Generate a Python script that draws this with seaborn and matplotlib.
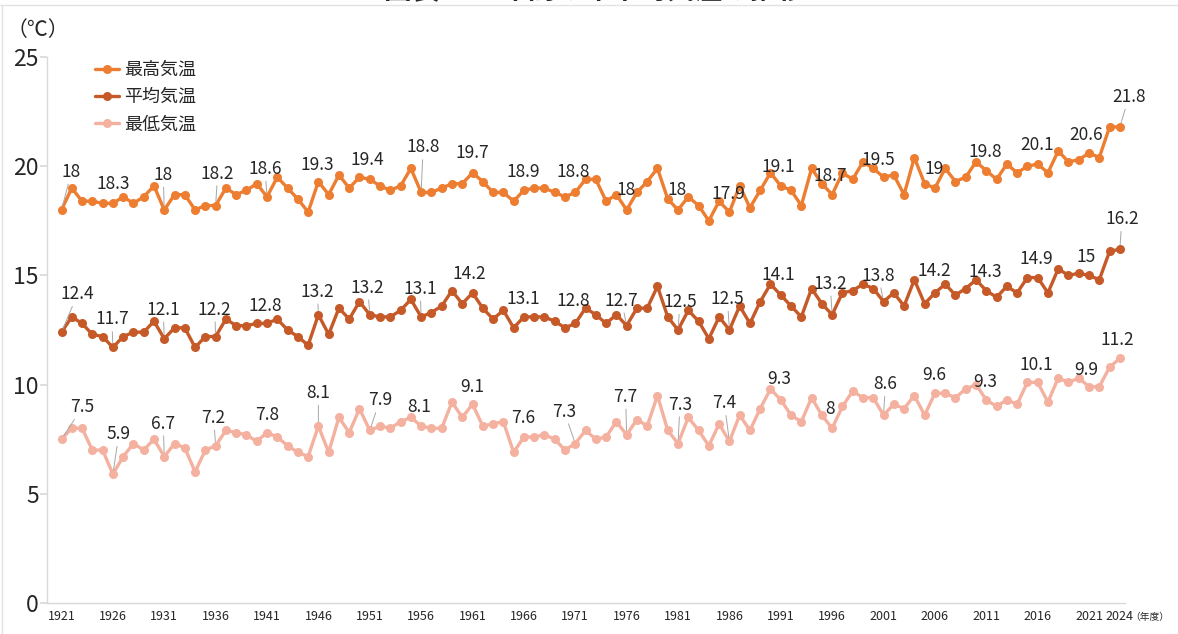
import pandas as pd
import matplotlib
matplotlib.use("Agg")
from matplotlib import pyplot as plt
from matplotlib.lines import Line2D
import seaborn as sns

years = list(range(1921, 2025))

max_temp = [
    18.0, 19.0, 18.4, 18.4, 18.3, 18.3, 18.6, 18.3, 18.6, 19.1,
    18.0, 18.7, 18.7, 18.0, 18.2, 18.2, 19.0, 18.7, 18.9, 19.2,
    18.6, 19.5, 19.0, 18.5, 17.9, 19.3, 18.7, 19.6, 19.0, 19.5,
    19.4, 19.1, 18.9, 19.1, 19.9, 18.8, 18.8, 19.0, 19.2, 19.2,
    19.7, 19.3, 18.8, 18.8, 18.4, 18.9, 19.0, 19.0, 18.8, 18.6,
    18.8, 19.4, 19.4, 18.4, 18.7, 18.0, 18.8, 19.3, 19.9, 18.5,
    18.0, 18.6, 18.2, 17.5, 18.4, 17.9, 19.1, 18.1, 18.9, 19.7,
    19.1, 18.9, 18.2, 19.9, 19.2, 18.7, 19.7, 19.4, 20.2, 19.9,
    19.5, 19.6, 18.7, 20.4, 19.2, 19.0, 19.9, 19.3, 19.5, 20.2,
    19.8, 19.4, 20.1, 19.7, 20.0, 20.1, 19.7, 20.7, 20.2, 20.3,
    20.6, 20.4, 21.8, 21.8,
]
avg_temp = [
    12.4, 13.1, 12.8, 12.3, 12.2, 11.7, 12.2, 12.4, 12.4, 12.9,
    12.1, 12.6, 12.6, 11.7, 12.2, 12.2, 13.0, 12.7, 12.7, 12.8,
    12.8, 13.0, 12.5, 12.2, 11.8, 13.2, 12.3, 13.5, 13.0, 13.8,
    13.2, 13.1, 13.1, 13.4, 13.9, 13.1, 13.3, 13.6, 14.3, 13.7,
    14.2, 13.5, 13.0, 13.4, 12.6, 13.1, 13.1, 13.1, 12.9, 12.6,
    12.8, 13.5, 13.2, 12.8, 13.2, 12.7, 13.5, 13.5, 14.5, 13.1,
    12.5, 13.4, 12.9, 12.1, 13.1, 12.5, 13.6, 12.8, 13.8, 14.6,
    14.1, 13.6, 13.1, 14.4, 13.7, 13.2, 14.2, 14.3, 14.6, 14.4,
    13.8, 14.2, 13.6, 14.8, 13.7, 14.2, 14.6, 14.1, 14.4, 14.8,
    14.3, 14.0, 14.5, 14.2, 14.9, 14.9, 14.2, 15.3, 15.0, 15.1,
    15.0, 14.8, 16.1, 16.2,
]
min_temp = [
    7.5, 8.0, 8.0, 7.0, 7.0, 5.9, 6.7, 7.3, 7.0, 7.5,
    6.7, 7.3, 7.1, 6.0, 7.0, 7.2, 7.9, 7.8, 7.7, 7.4,
    7.8, 7.6, 7.2, 6.9, 6.7, 8.1, 6.9, 8.5, 7.8, 8.9,
    7.9, 8.1, 8.0, 8.3, 8.5, 8.1, 8.0, 8.0, 9.2, 8.5,
    9.1, 8.1, 8.2, 8.3, 6.9, 7.6, 7.6, 7.7, 7.5, 7.0,
    7.3, 7.9, 7.5, 7.6, 8.3, 7.7, 8.4, 8.1, 9.5, 7.9,
    7.3, 8.5, 7.9, 7.2, 8.2, 7.4, 8.6, 7.9, 8.9, 9.8,
    9.3, 8.6, 8.3, 9.4, 8.6, 8.0, 9.0, 9.7, 9.4, 9.4,
    8.6, 9.1, 8.9, 9.5, 8.6, 9.6, 9.6, 9.4, 9.8, 10.0,
    9.3, 9.0, 9.3, 9.1, 10.1, 10.1, 9.2, 10.3, 10.1, 10.3,
    9.9, 9.9, 10.8, 11.2,
]

series_names = ["最高気温", "平均気温", "最低気温"]
series_colors = ["#ED7D31", "#C55A28", "#F4B1A0"]

# years that carry a value label (also the x tick positions)
label_years = list(range(1921, 2022, 5)) + [2024]

# label offsets from the point, in pixels (dx, dy up)
offsets_max = [(10, 38), (0, 19), (-1, 35), (2, 32), (-2, 28), (-1, 17), (-2, 19), (2, 45),
               (0, 20), (-1, 18), (-2, 20), (-1, 20), (-1, 20), (-1, 18), (-2, 19), (-2, 19),
               (-5, 17), (-1, 19), (-1, 19), (-1, 19), (-3, 18), (9, 30)]
offsets_avg = [(16, 38), (-1, 28), (-1, 29), (-1, 27), (-2, 17), (-1, 23), (-2, 27), (-1, 28),
               (-3, 19), (-1, 18), (-2, 22), (-5, 25), (2, 28), (-2, 31), (-2, 20), (-2, 31),
               (-5, 26), (-1, 22), (-1, 19), (-1, 19), (-3, 18), (2, 30)]
offsets_min = [(21, 32), (6, 40), (-1, 33), (-2, 28), (0, 18), (0, 33), (10, 30), (-2, 19),
               (0, 17), (-1, 19), (-11, 32), (-1, 38), (2, 39), (-5, 38), (-2, 21), (-2, 19),
               (2, 31), (-1, 18), (-1, 18), (-1, 17), (-3, 17), (-3, 18)]

sns.set_theme(style="white")
plt.rcParams["font.family"] = ["Noto Sans CJK JP", "DejaVu Sans"]

df = pd.DataFrame({
    "年度": years * 3,
    "気温": max_temp + avg_temp + min_temp,
    "系列": [n for n in series_names for _ in years],
})

fig = plt.figure(figsize=(11.78, 6.34), dpi=100)
ax = fig.add_axes([0.040, 0.049, 0.915, 0.861])

sns.lineplot(data=df, x="年度", y="気温", hue="系列",
             palette=dict(zip(series_names, series_colors)),
             marker="o", markersize=6.5, markeredgewidth=0, linewidth=2.4,
             ax=ax, legend=False)

for values, offsets in [(max_temp, offsets_max), (avg_temp, offsets_avg), (min_temp, offsets_min)]:
    for yr, (dx, dy) in zip(label_years, offsets):
        v = values[years.index(yr)]
        arrow = dict(arrowstyle="-", color="#A6A6A6", lw=0.7, shrinkA=0, shrinkB=3) if dy >= 23 else None
        ax.annotate(f"{v:g}", xy=(yr, v), xytext=(dx, dy), textcoords="offset pixels",
                    ha="center", va="center", fontsize=12.5, color="#262626",
                    arrowprops=arrow)

handles = [Line2D([], [], color=c, marker="o", markersize=6.5, markeredgewidth=0, linewidth=2.4)
           for c in series_colors]
ax.legend(handles, series_names, loc="upper left", bbox_to_anchor=(0.0445, 0.993),
          frameon=False, fontsize=13, handlelength=1.3, handletextpad=0.3,
          labelspacing=0.52, borderpad=0, borderaxespad=0)

ax.set_xlim(1919.6, 2024.5)
ax.set_ylim(0, 25)
ax.set_xticks(label_years)
ax.set_xticklabels([str(y) for y in label_years], fontsize=9, color="#262626")
ax.set_yticks(range(0, 26, 5))
ax.tick_params(axis="y", labelsize=16.5, labelcolor="#262626", length=5, color="#D9D9D9", pad=1, left=True)
ax.tick_params(axis="x", length=0, pad=5)
ax.set_xlabel("")
ax.set_ylabel("")
for side in ["top", "right"]:
    ax.spines[side].set_visible(False)
for side in ["left", "bottom"]:
    ax.spines[side].set_color("#D9D9D9")
    ax.spines[side].set_linewidth(1)

# thin chart-area frame lines at the top and left edges
fig.add_artist(Line2D([0, 1], [1 - 5 / 634, 1 - 5 / 634], color="#E3E3E3", lw=1))
fig.add_artist(Line2D([1.5 / 1178, 1.5 / 1178], [0, 1 - 5 / 634], color="#E3E3E3", lw=1))

fig.text(38 / 1178, 1 - 30 / 634, "（℃）", ha="center", va="center", fontsize=15, color="#262626")
fig.text(1150 / 1178, 1 - 617 / 634, "（年度）", ha="center", va="center", fontsize=7, color="#262626")
fig.text(595 / 1178, 1 + 1 / 634, "図表11　年間の年平均気温の推移", ha="center", va="baseline",
         fontsize=20, fontweight="bold", color="#262626")

fig.savefig("out.png", dpi=100)
